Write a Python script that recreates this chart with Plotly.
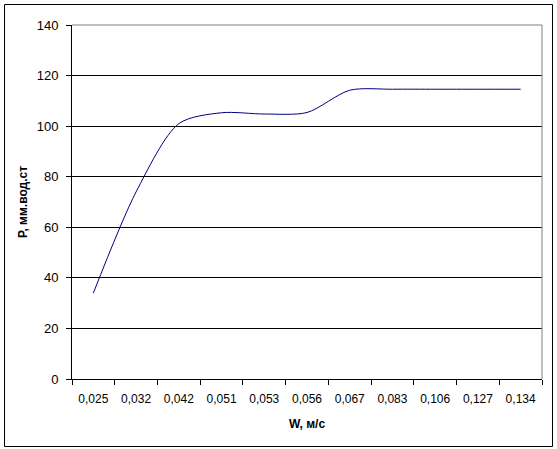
import plotly.graph_objects as go

categories = ["0,025", "0,032", "0,042", "0,051", "0,053", "0,056",
              "0,067", "0,083", "0,106", "0,127", "0,134"]
pressure = [34, 74, 101, 105.3, 104.8, 105.4, 114.2, 114.6, 114.6, 114.6, 114.6]
y_ticks = [0, 20, 40, 60, 80, 100, 120, 140]

W, H = 557, 449
ML, MR, MT, MB = 72, 15, 25, 70
pw, ph = W - ML - MR, H - MT - MB

def px_x(p):
    return (p - ML) / pw

def px_y(p):
    return (H - MB - p) / ph

font = "Liberation Sans, Arial, sans-serif"

fig = go.Figure()
fig.add_trace(go.Scatter(
    x=categories, y=pressure, mode="lines",
    line=dict(color="#000080", width=1, shape="spline", smoothing=0.8),
    hoverinfo="x+y", showlegend=False,
))

fig.update_layout(
    width=W, height=H,
    margin=dict(l=ML, r=MR, t=MT, b=MB, pad=0),
    paper_bgcolor="white", plot_bgcolor="white",
    font=dict(family=font, size=11, color="black"),
    xaxis=dict(
        type="category", range=[-0.5, len(categories) - 0.5],
        showgrid=False, showline=True, linecolor="black", linewidth=1,
        ticks="outside", tickson="boundaries", ticklen=5, tickcolor="black",
        tickfont=dict(family=font, size=12), ticklabelstandoff=9,
        title=dict(text="<b>W, м/с</b>", font=dict(family=font, size=12), standoff=14),
        zeroline=False,
    ),
    yaxis=dict(
        range=[0, 140], tickvals=y_ticks,
        showgrid=True, gridcolor="black", gridwidth=1,
        showline=True, linecolor="black", linewidth=1,
        ticks="outside", ticklen=5, tickcolor="black",
        tickfont=dict(family=font, size=13), ticklabelstandoff=5,
        title=dict(text="<b>P, мм.вод.ст</b>", font=dict(family=font, size=12), standoff=6),
        zeroline=False,
    ),
    shapes=[
        dict(type="line", xref="paper", yref="paper", x0=0, x1=1, y0=1, y1=1,
             line=dict(color="#808080", width=1), layer="above"),
        dict(type="line", xref="paper", yref="paper", x0=1, x1=1, y0=0, y1=1,
             line=dict(color="#808080", width=1), layer="above"),
        dict(type="rect", xref="paper", yref="paper",
             x0=px_x(4.5), x1=px_x(552.5), y0=px_y(446.5), y1=px_y(4.5),
             line=dict(color="black", width=1), fillcolor="rgba(0,0,0,0)", layer="above"),
    ],
)

fig.write_html("out.html", config={"displayModeBar": False},
               post_script="document.body.style.margin='0px';")
